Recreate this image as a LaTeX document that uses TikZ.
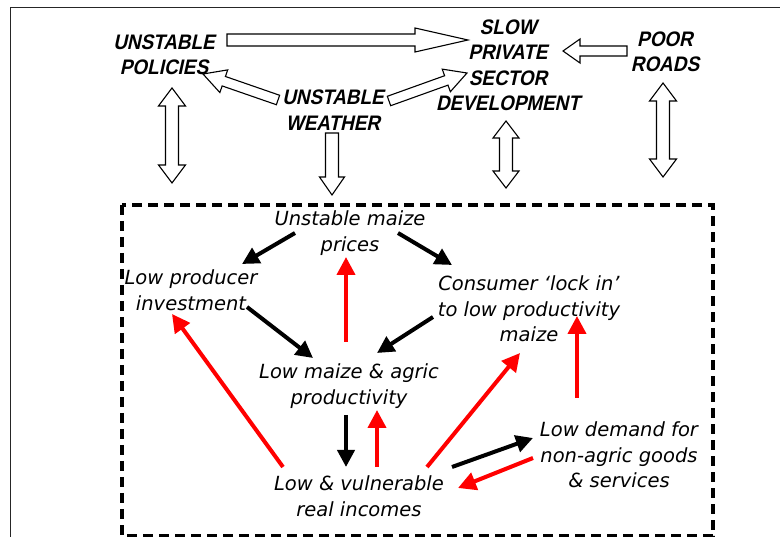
\documentclass[tikz,border=0pt]{standalone}
\usepackage{fontspec}
\usetikzlibrary{arrows.meta,calc}
\newfontfamily\topfont{Liberation Sans Bold}[FakeStretch=0.9,FakeSlant=0.22]
\newfontfamily\boxfont{DejaVu Sans}
\tikzset{
  toplabel/.style={font=\topfont\fontsize{21}{25.5}\selectfont, align=center, inner sep=0pt},
  boxlabel/.style={font=\boxfont\itshape\fontsize{19.5}{25.5}\selectfont, align=center, inner sep=0pt},
  fat/.style={draw=black, line width=1.1pt, fill=white, line join=miter},
  blk/.style={line width=4pt, -{Triangle[length=17pt,width=17pt]}},
  redarr/.style={blk, draw=red, -{Triangle[length=18pt,width=18pt]}, red},
  dashbox/.style={line width=4pt, dash pattern=on 10pt off 6pt},
}
\newcommand{\fatarrow}[5]{%
  \draw[fat] ($(#1)!#3pt!90:(#2)$) -- ($(#2)!#5pt!(#1)!#3pt!-90:(#1)$)
    -- ($(#2)!#5pt!(#1)!#4pt!-90:(#1)$) -- (#2)
    -- ($(#2)!#5pt!(#1)!#4pt!90:(#1)$) -- ($(#2)!#5pt!(#1)!#3pt!90:(#1)$)
    -- ($(#1)!#3pt!-90:(#2)$) -- cycle;}
\newcommand{\fatdouble}[5]{%
  \draw[fat] (#1) -- ($(#1)!#5pt!(#2)!#4pt!90:(#2)$) -- ($(#1)!#5pt!(#2)!#3pt!90:(#2)$)
    -- ($(#2)!#5pt!(#1)!#3pt!-90:(#1)$) -- ($(#2)!#5pt!(#1)!#4pt!-90:(#1)$) -- (#2)
    -- ($(#2)!#5pt!(#1)!#4pt!90:(#1)$) -- ($(#2)!#5pt!(#1)!#3pt!90:(#1)$)
    -- ($(#1)!#5pt!(#2)!#3pt!-90:(#2)$) -- ($(#1)!#5pt!(#2)!#4pt!-90:(#2)$) -- cycle;}
\begin{document}
\begin{tikzpicture}[x=1pt,y=-1pt]
    \useasboundingbox (0,0) rectangle (780,537);
    \draw[line width=1pt, draw=black!85] (10,545) -- (10,7.5) -- (790,7.5);
    \draw[dashbox] (122,205) rectangle (713,536);

    \node[toplabel] (policies) at (164,55) {UNSTABLE\\POLICIES};
    \node[toplabel] (slow) at (508,65.5) {SLOW\\PRIVATE\\SECTOR\\DEVELOPMENT};
    \node[toplabel] (roads) at (665,52) {POOR\\ROADS};
    \node[toplabel] (weather) at (333,110) {UNSTABLE\\WEATHER};

    \coordinate (ps-tail) at (227,40);
    \coordinate (ps-tip) at (468,40);
    \coordinate (rp-tail) at (627,51);
    \coordinate (rp-tip) at (563,51);
    \coordinate (wp-tail) at (278,100);
    \coordinate (wp-tip) at (203,74);
    \coordinate (ws-tail) at (389,101);
    \coordinate (ws-tip) at (467,73);
    \coordinate (pol-up) at (172,88);
    \coordinate (pol-down) at (172,183);
    \coordinate (wea-up) at (332,133);
    \coordinate (wea-down) at (332,195);
    \coordinate (sec-up) at (506,121);
    \coordinate (sec-down) at (506,188);
    \coordinate (road-up) at (663,83);
    \coordinate (road-down) at (663,177);

    \fatarrow{ps-tail}{ps-tip}{6}{12}{53}
    \fatarrow{rp-tail}{rp-tip}{5}{12}{17}
    \fatarrow{wp-tail}{wp-tip}{5}{12}{22}
    \fatarrow{ws-tail}{ws-tip}{5}{12}{22}
    \fatarrow{wea-up}{wea-down}{6.5}{12.5}{18}
    \fatdouble{pol-up}{pol-down}{6.5}{13.5}{18}
    \fatdouble{sec-up}{sec-down}{6.5}{13}{17}
    \fatdouble{road-up}{road-down}{6.5}{13.5}{18}

    \node[boxlabel] (prices) at (350,233) {Unstable maize\\prices};
    \node[boxlabel] (producer) at (191,290) {Low producer\\investment};
    \node[boxlabel] (lockin) at (529,309) {Consumer ‘lock in’\\to low productivity\\maize};
    \node[boxlabel] (productivity) at (349,386) {Low maize \& agric\\productivity};
    \node[boxlabel] (incomes) at (359,496) {Low \& vulnerable\\real incomes};
    \node[boxlabel] (demand) at (619,455) {Low demand for\\non-agric goods\\\& services};

    \draw[blk] ([shift={(-55,0)}]prices.center) -- ([shift={(51,-26)}]producer.center);
    \draw[blk] ([shift={(48,0)}]prices.center) -- ([shift={(-77,-44)}]lockin.center);
    \draw[blk] ([shift={(56,17)}]producer.center) -- ([shift={(-36,-28)}]productivity.center);
    \draw[blk] ([shift={(-96,8)}]lockin.center) -- ([shift={(28,-33)}]productivity.center);
    \draw[blk] ([shift={(-3,29)}]productivity.center) -- ([shift={(-13,-29)}]incomes.center);
    \draw[blk] ([shift={(93,-29)}]incomes.center) -- ([shift={(-86,-17)}]demand.center);

    \draw[redarr] ([shift={(-3,-44)}]productivity.center) -- ([shift={(-4,24)}]prices.center);
    \draw[redarr] ([shift={(18,-29)}]incomes.center) -- ([shift={(28,24)}]productivity.center);
    \draw[redarr] ([shift={(-76,-29)}]incomes.center) -- ([shift={(-19,24)}]producer.center);
    \draw[redarr] ([shift={(68,-29)}]incomes.center) -- ([shift={(-9,44)}]lockin.center);
    \draw[redarr] ([shift={(-42,-57)}]demand.center) -- ([shift={(48,7)}]lockin.center);
    \draw[redarr] ([shift={(-86,3)}]demand.center) -- ([shift={(99,-8)}]incomes.center);
\end{tikzpicture}
\end{document}
